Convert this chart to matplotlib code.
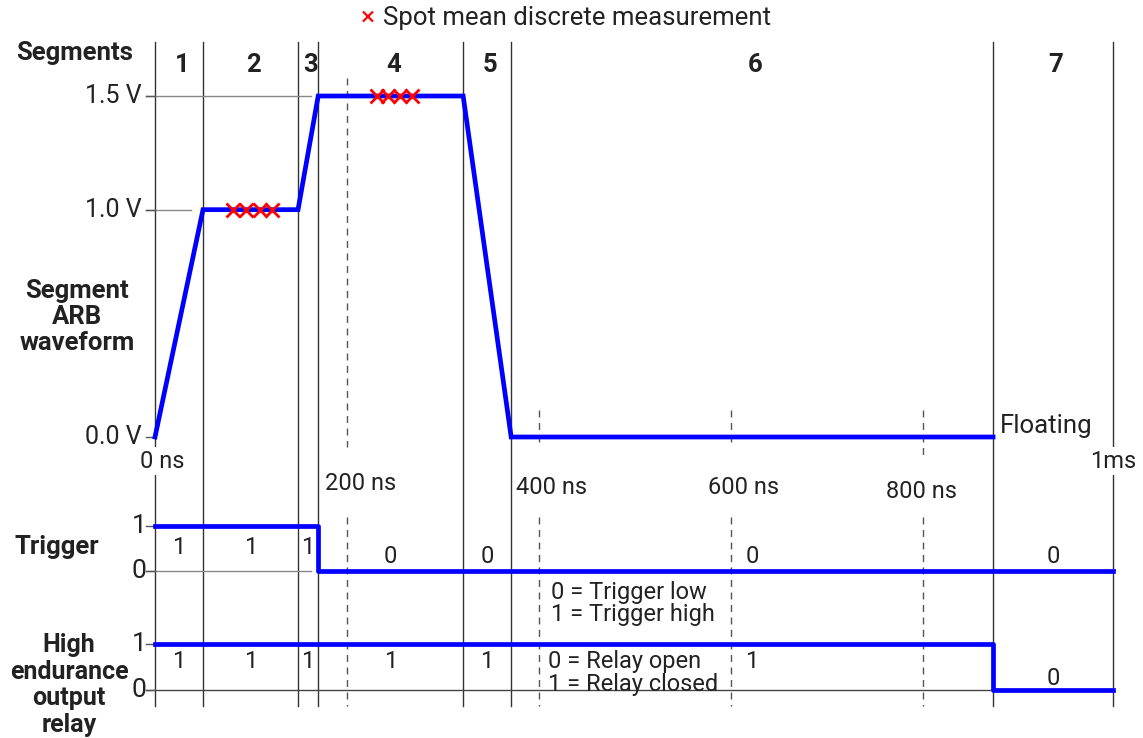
import matplotlib.pyplot as plt
import numpy as np

# segment boundaries (ns) and names
seg_edges = [0, 50, 149, 170, 321, 371, 873, 998]
seg_names = ['1', '2', '3', '4', '5', '6', '7']

# segment ARB waveform (ns, V)
wave_t = [0, 50, 149, 170, 321, 371, 873]
wave_v = [0.0, 1.0, 1.0, 1.5, 1.5, 0.0, 0.0]

# spot mean measurements
spot2_t = [81, 95, 109, 122]
spot2_v = [1.0, 1.0, 1.0, 1.0]
spot4_t = [231, 243, 255, 268]
spot4_v = [1.5, 1.5, 1.5, 1.5]

# trigger and relay states
trig_t = [0, 170, 998]
trig_v = [1, 0, 0]
relay_t = [0, 873, 998]
relay_v = [1, 0, 0]
trig_labels = ['1', '1', '1', '0', '0', '0', '0']
relay_labels = ['1', '1', '1', '1', '1', '1', '0']

time_ticks = [0, 200, 400, 600, 800]
time_labels = ['0 ns', '200 ns', '400 ns', '600 ns', '800 ns']
volt_ticks = [0.0, 1.0, 1.5]
volt_labels = ['0.0 V', '1.0 V', '1.5 V']

W, H = 1143, 738
plt.rcParams['font.family'] = ['Roboto', 'DejaVu Sans']
TXT = '#222222'
BLUE = '#0000ff'

fig = plt.figure(figsize=(W / 100, H / 100), dpi=100)

# three overlaid axes, one per panel, sharing the time axis
ax = fig.add_axes([0, 0, 1, 1])
axt = fig.add_axes([0, 0, 1, 1], sharex=ax)
axr = fig.add_axes([0, 0, 1, 1], sharex=ax)
for a in (ax, axt, axr):
    a.set_axis_off()
    a.patch.set_alpha(0)

ax.set_xlim(-155 / 0.96, (W - 155) / 0.96)
ax.set_ylim(-(H - 437) / 227.33, 437 / 227.33)
axt.set_ylim(-(H - 571) / 45, 571 / 45)
axr.set_ylim(-(H - 690) / 46, 690 / 46)


def fy(p):
    # pixel row -> figure fraction
    return 1 - p / H


def fx(p):
    # pixel column -> ns
    return (p - 155) / 0.96


tr = ax.get_xaxis_transform()

# segment boundaries
for x in seg_edges:
    ax.plot([x, x], [fy(42), fy(706)], transform=tr, color='#333333', lw=1, zorder=1)

# dashed time lines
for x in time_ticks[1:]:
    top = 78 if x == 200 else 410
    bot = 455 if x == 800 else 447
    ax.plot([x, x], [fy(top), fy(bot)], transform=tr, color='#555555', lw=1,
            ls=(0, (5, 4)), zorder=1)
    ax.plot([x, x], [fy(517), fy(706)], transform=tr, color='#555555', lw=1,
            ls=(0, (5, 4)), zorder=1)

# legend line at top
ax.text(fx(368), fy(18), '\u00d7', transform=tr, color='red',
        fontsize=19, ha='center', va='center')
ax.text(fx(383), fy(18), 'Spot mean discrete measurement', transform=tr,
        color=TXT, fontsize=18.5, ha='left', va='center')

# left labels
ax.text(fx(75), fy(53), 'Segments', transform=tr, color=TXT,
        fontsize=18.5, fontweight='bold', ha='center', va='center')
ax.text(fx(77), fy(317), 'Segment\nARB\nwaveform', transform=tr,
        color=TXT, fontsize=18.5, fontweight='bold', ha='center', va='center',
        linespacing=1.1)
ax.text(fx(57), fy(547), 'Trigger', transform=tr, color=TXT,
        fontsize=18.5, fontweight='bold', ha='center', va='center')
ax.text(fx(69), fy(685), 'High\nendurance\noutput\nrelay', transform=tr,
        color=TXT, fontsize=18, fontweight='bold', ha='center', va='center',
        linespacing=1.13)

# segment numbers
for i, name in enumerate(seg_names):
    xc = (seg_edges[i] + seg_edges[i + 1]) / 2 + 3
    ax.text(xc, fy(65), name, transform=tr, color=TXT, fontsize=18.5,
            fontweight='bold', ha='center', va='center')

# voltage ticks and reference lines
for v, lab in zip(volt_ticks, volt_labels):
    ax.text(-14, v, lab, color=TXT, fontsize=18, ha='right', va='center')
    ax.plot([-9.5, 0], [v, v], color='#555555', lw=1)
ax.plot([-9.5, 162], [1.5, 1.5], color='#888888', lw=1, zorder=1)
ax.plot([-9.5, 38], [1.0, 1.0], color='#888888', lw=1, zorder=1)

# waveform
ax.plot(wave_t, wave_v, color=BLUE, lw=3.4, solid_joinstyle='miter', zorder=3)
ax.plot(spot2_t, spot2_v, ls='none', marker='x', ms=10, mew=2, color='red', zorder=4)
ax.plot(spot4_t, spot4_v, ls='none', marker='x', ms=10, mew=2, color='red', zorder=4)
ax.text(fx(1000), fy(426), 'Floating', transform=tr, color=TXT,
        fontsize=18.5, ha='left', va='center')

# time labels
ax.text(8, fy(461), time_labels[0], transform=tr, color=TXT, fontsize=17,
        ha='center', va='center', zorder=2,
        bbox=dict(facecolor='white', edgecolor='none', pad=2))
label_rows = [483, 487, 487, 491]
label_off = [23, 24, 24, 39]
for t, lab, r, o in zip(time_ticks[1:], time_labels[1:], label_rows, label_off):
    ax.text(t - o, fy(r), lab, transform=tr, color=TXT, fontsize=17,
            ha='left', va='center', zorder=2)
ax.text(998, fy(461), '1ms', transform=tr, color=TXT, fontsize=17,
        ha='center', va='center', zorder=2,
        bbox=dict(facecolor='white', edgecolor='none', pad=2))

# trigger panel
for v in (0, 1):
    axt.text(-9, v, str(v), color=TXT, fontsize=19, ha='right', va='center')
    axt.plot([-9.5, 0], [v, v], color='#555555', lw=1)
axt.plot([-9.5, 162], [0, 0], color='#888888', lw=1, zorder=1)
axt.step(trig_t, trig_v, where='post', color=BLUE, lw=3.4, zorder=3)
for i, lab in enumerate(trig_labels):
    xc = (seg_edges[i] + seg_edges[i + 1]) / 2
    axt.text(xc, 0.53 if lab == '1' else 0.33, lab, color=TXT, fontsize=17,
             ha='center', va='center')
axt.text(412, -0.72, '0 = Trigger low\n1 = Trigger high', color=TXT, fontsize=17,
         ha='left', va='center', linespacing=0.95)

# relay panel
for v in (0, 1):
    axr.text(-9, v, str(v), color=TXT, fontsize=19, ha='right', va='center')
    axr.plot([-9.5, 0], [v, v], color='#555555', lw=1)
axr.plot([-9.5, 873], [0, 0], color='#444444', lw=1, zorder=1)
axr.step(relay_t, relay_v, where='post', color=BLUE, lw=3.4, zorder=3)
for i, lab in enumerate(relay_labels):
    xc = (seg_edges[i] + seg_edges[i + 1]) / 2
    axr.text(xc, 0.61 if lab == '1' else 0.26, lab, color=TXT, fontsize=17,
             ha='center', va='center')
axr.text(409, 0.37, '0 = Relay open\n1 = Relay closed', color=TXT, fontsize=17,
         ha='left', va='center', linespacing=0.95)

fig.savefig('out.png', dpi=100)
